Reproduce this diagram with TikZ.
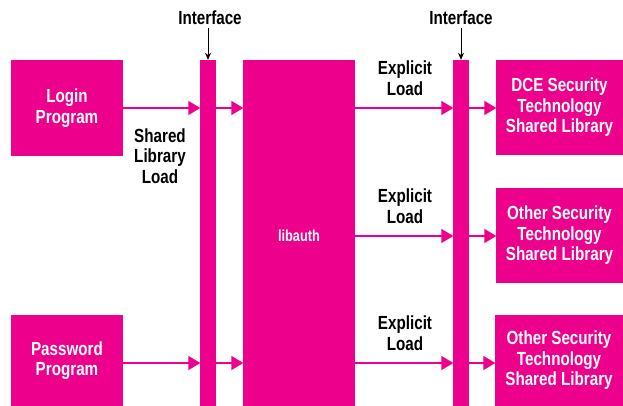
\documentclass[tikz,border=0pt]{standalone}
\usepackage{fontspec}
\setmainfont[FakeStretch=0.8]{Liberation Sans Bold}
\usetikzlibrary{arrows.meta}
\definecolor{mag}{RGB}{236,0,140}
\tikzset{
  blk/.style={fill=mag, draw=none, inner sep=0pt, text=white, align=center,
    font=\fontsize{19}{20.5}\selectfont},
  lbl/.style={align=center, font=\fontsize{19}{20.5}\selectfont, inner sep=0pt},
  arr/.style={draw=mag, line width=1.5pt, -{Triangle[length=12pt,width=14pt]}, shorten >=-0.5pt},
  iarr/.style={draw=black, line width=0.9pt, -{Stealth[length=7pt,width=6pt]}},
}
\begin{document}
\begin{tikzpicture}[x=1pt,y=-1pt]
\useasboundingbox (0,0) rectangle (623,406);
\node[blk, minimum width=112pt, minimum height=96pt] (login) at (67,108) {Login\\Program};
\node[blk, minimum width=112pt, minimum height=91pt] (password) at (67,360.5) {Password\\Program};
\node[blk, minimum width=16pt, minimum height=346pt] (bar1) at (208,233) {};
\node[blk, minimum width=112pt, minimum height=346pt] (libauth) at (299,233) {};
\node[text=white, inner sep=0pt, font=\fontsize{16}{18}\selectfont] (libtext) at (299,236) {libauth};
\node[blk, minimum width=16pt, minimum height=346pt] (bar2) at (461,233) {};
\node[blk, minimum width=127pt, minimum height=95pt] (dce) at (559.5,107.5) {DCE Security\\Technology\\Shared Library};
\node[blk, minimum width=127pt, minimum height=95pt] (other1) at (559.5,235.5) {Other Security\\Technology\\Shared Library};
\node[blk, minimum width=128pt, minimum height=91pt] (other2) at (559,360.5) {Other Security\\Technology\\Shared Library};
\node[lbl] (if1) at (210,17.5) {Interface};
\node[lbl] (if2) at (461,17.5) {Interface};
\node[lbl] (sll) at (160,156) {Shared\\Library\\Load};
\node[lbl] (el1) at (405,78) {Explicit\\Load};
\node[lbl] (el2) at (405,206) {Explicit\\Load};
\node[lbl] (el3) at (405,333) {Explicit\\Load};
\coordinate (r1) at (0,108);
\coordinate (r2) at (0,236);
\coordinate (r3) at (0,363);
\draw[iarr] ([yshift=-3pt]if1.south -| bar1.north) -- (bar1.north);
\draw[iarr] ([yshift=-3pt]if2.south -| bar2.north) -- (bar2.north);
\draw[arr] (login.east |- r1) -- (bar1.west |- r1);
\draw[arr] (bar1.east |- r1) -- (libauth.west |- r1);
\draw[arr] (libauth.east |- r1) -- (bar2.west |- r1);
\draw[arr] (bar2.east |- r1) -- (dce.west |- r1);
\draw[arr] (libauth.east |- r2) -- (bar2.west |- r2);
\draw[arr] (bar2.east |- r2) -- (other1.west |- r2);
\draw[arr] (password.east |- r3) -- (bar1.west |- r3);
\draw[arr] (bar1.east |- r3) -- (libauth.west |- r3);
\draw[arr] (libauth.east |- r3) -- (bar2.west |- r3);
\draw[arr] (bar2.east |- r3) -- (other2.west |- r3);
\end{tikzpicture}
\end{document}
